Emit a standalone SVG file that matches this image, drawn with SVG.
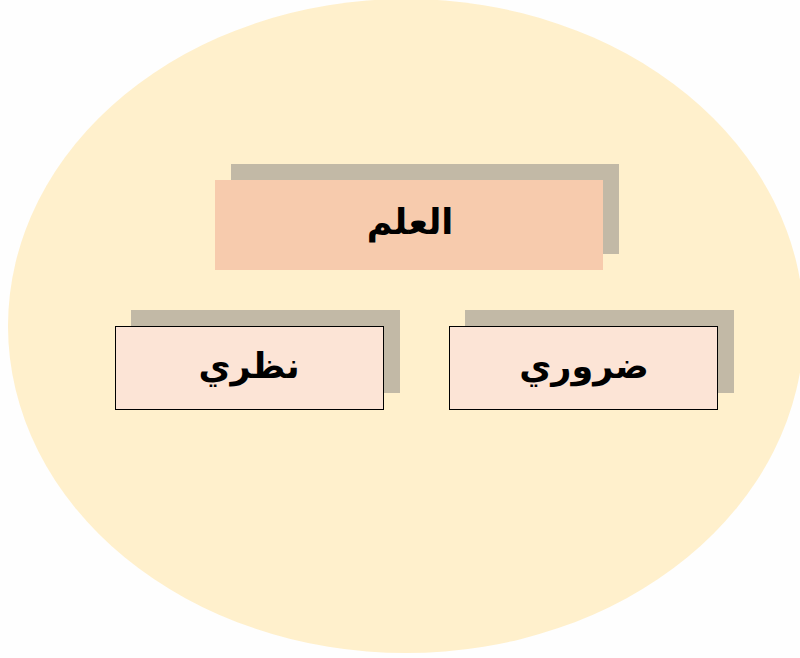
<svg xmlns="http://www.w3.org/2000/svg" width="800" height="658" viewBox="0 0 800 658">
<style>
.shadow{fill:#C2B9A6}
.title{fill:#F7CBAD}
.box{fill:#FCE4D6;stroke:#000;stroke-width:1}
.lbl{font-family:"DejaVu Sans",sans-serif;font-weight:bold;font-size:35px;fill:#000;text-anchor:middle}
</style>
<rect width="800" height="658" fill="#FEFEFE"/>
<ellipse cx="406" cy="326" rx="398" ry="327" fill="#FFF0CC"/>
<g id="connectors"></g>
<g id="node-ilm">
<rect class="shadow" x="231" y="164" width="388" height="90"/>
<rect class="title" x="215" y="180" width="388" height="90"/>
<text class="lbl" x="410" y="234" direction="rtl">العلم</text>
</g>
<g id="node-nazari">
<rect class="shadow" x="131" y="310" width="269" height="83"/>
<rect class="box" x="115.5" y="326.5" width="268" height="83"/>
<text class="lbl" x="249" y="378" direction="rtl">نظري</text>
</g>
<g id="node-daruri">
<rect class="shadow" x="465" y="310" width="269" height="83"/>
<rect class="box" x="449.5" y="326.5" width="268" height="83"/>
<text class="lbl" x="584" y="378" direction="rtl">ضروري</text>
</g>
</svg>
